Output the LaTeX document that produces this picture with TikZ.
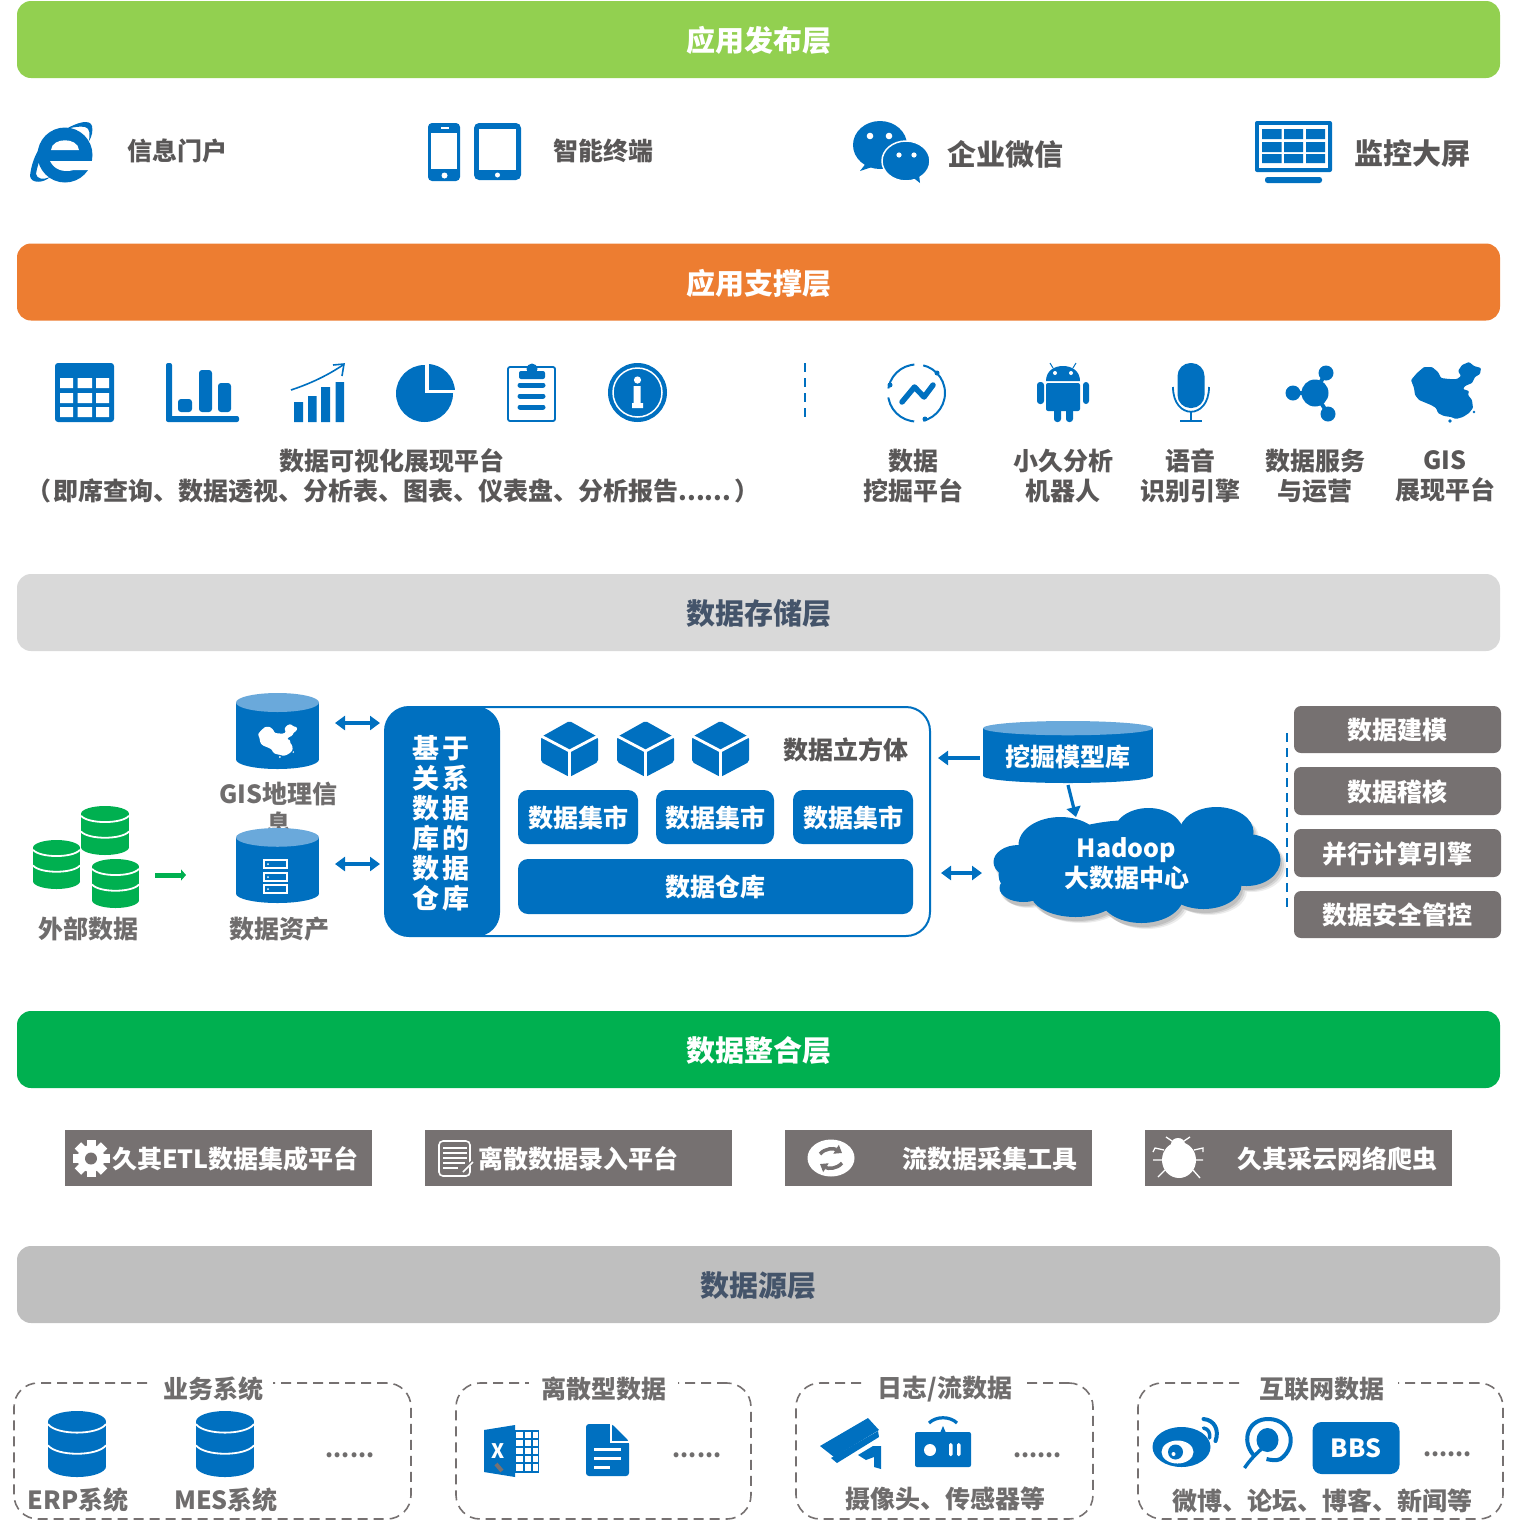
\documentclass[tikz,border=0pt]{standalone}
\usepackage{fontspec}
\setmainfont{Noto Sans CJK SC}
\usetikzlibrary{arrows.meta}
\definecolor{bluemain}{HTML}{0070C0}
\definecolor{bluelight}{HTML}{6AA9DB}
\definecolor{greenstack}{HTML}{00B050}
\definecolor{txtdark}{HTML}{595757}
\definecolor{txtgray}{HTML}{6F6D6D}
\definecolor{boxgray}{HTML}{767171}
\definecolor{headslate}{HTML}{44546A}
\tikzset{
  band/.style={rounded corners=14pt,minimum width=1483pt,minimum height=77pt,inner sep=0pt,
    text height=26pt,text depth=2pt,font=\fontsize{29}{34}\selectfont\bfseries,text=white},
  lbl/.style={inner sep=0pt,yshift=-1pt,align=center,font=\fontsize{25}{30}\selectfont\bfseries,text=txtdark},
  lblg/.style={lbl,text=txtgray},
  lblw/.style={lbl,text=white},
  dotrow/.style={inner sep=0pt,anchor=base,font=\fontsize{23}{28}\selectfont\bfseries,text=txtgray},
  bluebox/.style={fill=bluemain,rounded corners=10pt,inner sep=0pt,text=white,
    text height=22.5pt,text depth=2.5pt,font=\fontsize{25}{30}\selectfont\bfseries},
  graybox/.style={fill=boxgray,rounded corners=7pt,minimum width=207pt,inner sep=0pt,text=white,
    text height=22.5pt,text depth=2.5pt,font=\fontsize{25}{30}\selectfont\bfseries},
  etlbox/.style={fill=boxgray,minimum width=307pt,minimum height=56pt,inner sep=0pt},
  srcbox/.style={draw=boxgray,line width=1.6pt,dash pattern=on 10pt off 6pt,rounded corners=24pt,inner sep=0pt},
  linkd/.style={draw=bluemain,line width=3.2pt,{Triangle[length=10pt,width=14pt]}-{Triangle[length=10pt,width=14pt]}},
  links/.style={draw=bluemain,line width=3.2pt,-{Triangle[length=10pt,width=14pt]}},
  sepline/.style={draw=bluemain,line width=1.6pt,dash pattern=on 9pt off 6pt},
}
% database drum built from stacked discs, in a unit box
\newcommand{\discdb}[5]{% colour, x, y, w, h
  \begin{scope}[shift={(#2,#3)},xscale=#4,yscale=#5]
    \fill[#1] (0,.16) rectangle (1,.84);
    \fill[#1] (.5,.16) circle [x radius=.5,y radius=.16];
    \fill[#1] (.5,.84) circle [x radius=.5,y radius=.16];
    \draw[white,line width=1.8pt] (0,.2) .. controls (.15,.37) and (.85,.37) .. (1,.2);
    \draw[white,line width=1.8pt] (0,.52) .. controls (.15,.69) and (.85,.69) .. (1,.52);
  \end{scope}}
% cylinder with a lighter lid
\newcommand{\lidcyl}[5]{% x, y, w, h, lid ratio
  \begin{scope}[shift={(#1,#2)},xscale=#3,yscale=#4]
    \fill[bluemain] (0,#5) rectangle (1,1-#5);
    \fill[bluemain] (.5,1-#5) circle [x radius=.5,y radius=#5];
    \fill[bluelight] (.5,#5) circle [x radius=.5,y radius=#5];
  \end{scope}}
% isometric cube split in three faces
\newcommand{\isocube}[2]{%
  \begin{scope}[shift={(#1,#2)}]
    \fill[bluemain,rounded corners=2pt] (28.5,0)--(57,16)--(57,41)--(28.5,56)--(0,41)--(0,16)--cycle;
    \draw[white,line width=2.8pt] (0,15)--(28.5,30)--(57,15) (28.5,30)--(28.5,57);
  \end{scope}}
% outline of the country, 70 wide and 60 tall
\newcommand{\landmass}[4]{% colour, x, y, scale
  \begin{scope}[shift={(#2,#3)},scale=#4]
    \fill[#1,rounded corners=1pt] (0,18)--(6,11)--(13,5)--(21,5)--(27,10)--(30,16)--(38,17)--(46,17)--(50,14)--(47,9)--(51,3)--(58,0)--(63,4)--(70,6)--(69,12)--(64,15)--(61,21)--(54,24)--(52,27)--(58,29)--(57,33)--(61,38)--(62,46)--(58,51)--(52,55)--(45,57)--(40,55)--(33,54)--(27,51)--(25,46)--(20,43)--(8,38)--(4,33)--(3,26)--cycle;
    \fill[#1] (39,59) circle [radius=1.8];
    \fill[#1] (63,50) circle [radius=1.4];
  \end{scope}}
\newcommand{\cloudshape}{
  (1062,845) circle [x radius=42,y radius=28]
  (1150,833) circle [x radius=35,y radius=25]
  (1218,832) circle [x radius=37,y radius=25]
  (1248,860) circle [x radius=34,y radius=26]
  (1020,862) circle [x radius=25,y radius=17]
  (1025,888) circle [x radius=24,y radius=14]
  (1040,875) circle [x radius=40,y radius=25]
  (1077,893) circle [x radius=45,y radius=24]
  (1143,896) circle [x radius=42,y radius=27]
  (1205,885) circle [x radius=38,y radius=24]
  (1135,865) circle [x radius=100,y radius=45]
}
\begin{document}
\begin{tikzpicture}[x=1pt,y=-1pt]
\useasboundingbox (0,0) rectangle (1517,1524);

% ---------- layer bands ----------
\node[band,fill={rgb,255:red,146;green,208;blue,80}] (pub) at (758.5,39.5) {应用发布层};
\node[band,fill={rgb,255:red,237;green,125;blue,49}] (sup) at (758.5,282) {应用支撑层};
\node[band,fill={rgb,255:red,217;green,217;blue,217},text=headslate] (sto) at (758.5,612.5) {数据存储层};
\node[band,fill=greenstack] (int) at (758.5,1049.5) {数据整合层};
\node[band,fill={rgb,255:red,191;green,191;blue,191},text=headslate] (src) at (758.5,1284.5) {数据源层};

% ---------- publishing row ----------
% browser logo: letter with its orbit
\fill[bluemain] (65,155) circle [radius=27.5];
\fill[white] (51,150) .. controls (52,137) and (78,137) .. (79,150) -- cycle;
\fill[white] (50,161) -- (95,161) -- (95,170) -- (74,170) .. controls (62,173) and (54,169) .. (50,161) -- cycle;
\fill[white] (75,167) -- (95,167) -- (95,160) -- cycle;
\fill[bluemain] (30,176) .. controls (32,158) and (40,143) .. (56,130) .. controls (46,145) and (38,160) .. (36,174) .. controls (37,179) and (43,180) .. (50,177) .. controls (44,183) and (31,184) .. (30,176) -- cycle;
\fill[bluemain] (66,129) .. controls (78,122) and (90,119) .. (92,126) .. controls (93,131) and (92,136) .. (89,141) .. controls (90,134) and (90,128) .. (85,127) .. controls (80,126) and (74,127) .. (66,129) -- cycle;
\node[lbl] (tportal) at (177,150) {信息门户};
% handset and tablet
\fill[bluemain,rounded corners=4pt] (428,123) rectangle (460,181);
\fill[white] (431,133) rectangle (457,169);
\fill[white] (441,127) rectangle (449,129);
\fill[white] (444.5,175.5) circle [radius=3];
\fill[bluemain,rounded corners=5pt] (474,123) rectangle (521,180);
\fill[white] (479,129) rectangle (516,170);
\fill[white] (497.5,175) circle [radius=2.5];
\node[lbl] (tterm) at (603,150) {智能终端};
% chat bubbles
\begin{scope}[xshift=-1pt]
\fill[bluemain] (881,145) circle [x radius=27,y radius=24];
\fill[bluemain] (868,162)--(861,171)--(876,166)--cycle;
\fill[bluemain,draw=white,line width=1.5pt] (907,161) circle [x radius=24,y radius=20];
\fill[bluemain] (912,176)--(921,183)--(920,174)--cycle;
\fill[white] (871,136) circle [radius=3.3] (890,136) circle [radius=3.3] (900,155) circle [radius=2.6] (915,155) circle [radius=2.6];
\end{scope}
\node[lbl,font=\fontsize{29}{34}\selectfont\bfseries] (twx) at (1005,153) {企业微信};
% wall screen
\begin{scope}[xshift=-2pt]
\fill[bluemain,rounded corners=2pt] (1257,121) rectangle (1334,172);
\fill[white] (1261,125) rectangle (1330,168);
\fill[bluemain] (1264,129) rectangle (1283.5,139) (1286,129) rectangle (1305,139) (1308,129) rectangle (1327,139)
  (1264,142) rectangle (1283.5,152) (1286,142) rectangle (1305,152) (1308,142) rectangle (1327,152)
  (1264,154) rectangle (1283.5,163) (1286,154) rectangle (1305,163) (1308,154) rectangle (1327,163);
\fill[bluemain,rounded corners=2.5pt] (1267,177) rectangle (1324,183);
\end{scope}
\node[lbl,font=\fontsize{29}{34}\selectfont\bfseries] (tscr) at (1412,153) {监控大屏};

% ---------- support row, left group ----------
% grid
\fill[bluemain,rounded corners=3pt] (55,363) rectangle (114,422);
\fill[white] (60,378) rectangle (73,388) (77.5,378) rectangle (92,388) (96,378) rectangle (109,388)
  (60,393) rectangle (73,403) (77.5,393) rectangle (92,403) (96,393) rectangle (109,403)
  (60,407) rectangle (73,417) (77.5,407) rectangle (92,417) (96,407) rectangle (109,417);
% bars on axes
\fill[bluemain,rounded corners=2pt] (166,363) rectangle (172,422) (166,416) rectangle (239,422);
\fill[bluemain,rounded corners=3pt] (178,399) rectangle (192,412) (199,370) rectangle (212,412) (218,383) rectangle (231,412);
% rising bars
\fill[bluemain] (294,402) rectangle (303,422) (308,396) rectangle (316.5,422) (321,387) rectangle (330,422) (335.5,382) rectangle (344,422);
\draw[bluemain,line width=1.6pt] (291,390) .. controls (312,383) and (328,375) .. (343,365);
\draw[bluemain,line width=1.6pt] (333,365) -- (344,364) -- (342,376);
% pie
\fill[bluemain] (424.5,393.5) circle [radius=28.5];
\fill[white] (424.5,360) rectangle (460,392.5);
\begin{scope}
  \clip (429,360) rectangle (460,389);
  \fill[bluemain] (427,392) circle [radius=28];
\end{scope}
% clipboard
\draw[bluemain,line width=1.8pt,rounded corners=2pt] (508,367) rectangle (555,421);
\fill[bluemain,rounded corners=2pt] (519,371) rectangle (545,379);
\fill[bluemain] (532,369) circle [radius=5.5];
\draw[bluemain,line width=5pt,line cap=round] (520,385)--(543,385) (520,396)--(543,396) (520,407)--(543,407);
% information disc
\fill[bluemain] (637.5,392.5) circle [radius=29.5];
\draw[white,line width=1.5pt] (637.5,392.5) circle [radius=24.5];
\fill[white] (637.5,380) circle [radius=3.6];
\fill[white] (633.5,386) rectangle (640.5,403) (632,403) rectangle (643,408);
\node[lbl] (tvis) at (391.5,460) {数据可视化展现平台};
\node[lbl] (tvis2) at (393,490) {（\hspace{2pt}即席查询、数据透视、分析表、图表、仪表盘、分析报告......\hspace{3pt}）};

\coordinate (sa) at (805,363);
\coordinate (sb) at (805,421);
\draw[sepline] (sa) -- (sb);

% ---------- support row, right group ----------
% mining ring
\draw[bluemain,line width=2pt,dash pattern=on 38pt off 9pt] (916.5,393) circle [radius=28.5];
\draw[bluemain,line width=5.5pt,line cap=round,line join=round] (902,402)--(914.5,387)--(924,397)--(933,385);
\fill[bluemain] (890,385) circle [radius=2.5] (937,373) circle [radius=2.5] (925,419) circle [radius=2.5];
\node[lbl] (tmine) at (913,475) {数据\\挖掘平台};
% robot
\begin{scope}[xshift=-1pt]
\fill[bluemain] (1047,381) .. controls (1047,371) and (1055,366) .. (1064,366) .. controls (1073,366) and (1081,371) .. (1081,381) -- cycle;
\fill[bluemain,rounded corners=2pt] (1047,383) rectangle (1081,411);
\fill[bluemain,rounded corners=3pt] (1038,382) rectangle (1045,404) (1084,382) rectangle (1090,404) (1055,405) rectangle (1062,422) (1067,405) rectangle (1074,422);
\draw[bluemain,line width=1pt] (1054,368)--(1051,363) (1074,368)--(1077,363);
\fill[white] (1056,373) circle [radius=2] (1072,373) circle [radius=2];
\end{scope}
\node[lbl] (trobot) at (1063,475) {小久分析\\机器人};
% microphone
\begin{scope}[xshift=-2pt]
\fill[bluemain,rounded corners=13pt] (1179.5,363) rectangle (1206.5,408);
\draw[bluemain,line width=1.8pt] (1175,387) .. controls (1175,420) and (1211,420) .. (1211,387);
\draw[bluemain,line width=1.8pt] (1193,412) -- (1193,421) (1182,421) -- (1204,421);
\end{scope}
\node[lbl] (tvoice) at (1190,475) {语音\\识别引擎};
% hub
\begin{scope}[xshift=-2pt]
\draw[bluemain,line width=4pt] (1317,393)--(1328,372) (1317,393)--(1295,393) (1317,393)--(1330,414);
\fill[bluemain] (1317,393) circle [radius=13.5] (1328,373) circle [radius=7.5] (1295,393) circle [radius=7.5] (1330,414) circle [radius=7.5];
\end{scope}
\node[lbl] (tserv) at (1315,475) {数据服务\\与运营};
% map
\landmass{bluemain}{1411}{362}{1}
\node[lbl] (tgis) at (1445,475) {GIS\\展现平台};

% ---------- storage: feeding databases ----------
\discdb{greenstack}{33}{840}{47}{49}
\discdb{greenstack}{81}{806}{48}{49}
\discdb{greenstack}{92}{859}{47}{49}
\coordinate (ga) at (155,875);
\coordinate (gb) at (186,875);
\draw[greenstack,line width=5pt,-{Triangle[length=5pt,width=11pt]}] (ga) -- (gb);
\node[lblg] (text) at (88,928) {外部数据};

\node[lblg] (tgeo) at (278.5,808) {GIS地理信\\息};
\lidcyl{236}{693}{83}{76}{.125}
\landmass{white}{258}{724}{.56}
\lidcyl{236}{828}{83}{75}{.125}
\draw[white,line width=1.2pt] (264,860) rectangle (287,868) (264,873) rectangle (287,881) (264,885) rectangle (287,893);
\fill[white] (268,864) circle [radius=1] (268,877) circle [radius=1] (268,889) circle [radius=1];
\node[lblg] (tasset) at (279,928) {数据资产};

% ---------- storage: warehouse frame ----------
\node[draw=bluemain,fill=white,line width=2pt,rounded corners=24pt,minimum width=545pt,minimum height=229pt,inner sep=0pt] (frame) at (657.5,821.5) {};
\node[fill=bluemain,rounded corners=24pt,minimum width=115pt,minimum height=230pt,inner sep=0pt] (rel) at (442.5,821.5) {};
\node[inner sep=0pt,text=white,align=center,font=\fontsize{27}{30}\selectfont\bfseries] (trel) at (440.5,823.5)
  {基\hspace{3pt}于\\关\hspace{3pt}系\\数\hspace{3pt}据\\库\hspace{3pt}的\\数\hspace{3pt}据\\仓\hspace{3pt}库};
\isocube{541}{721}
\isocube{617}{721}
\isocube{692}{721}
\node[lbl] (tcube) at (845.5,749) {数据立方体};
\node[bluebox,minimum width=120pt,minimum height=54pt] (mart1) at (578,817) {数据集市};
\node[bluebox,minimum width=118pt,minimum height=54pt] (mart2) at (715,817) {数据集市};
\node[bluebox,minimum width=120pt,minimum height=54pt] (mart3) at (853,817) {数据集市};
\node[bluebox,minimum width=395pt,minimum height=55pt] (dw) at (715.5,886.5) {数据仓库};

\coordinate (a1l) at (335,723);
\coordinate (a1r) at (380,723);
\coordinate (a2l) at (335,864);
\coordinate (a2r) at (380,864);
\draw[linkd] (a1l) -- (a1r);
\draw[linkd] (a2l) -- (a2r);

% ---------- storage: mining models and cluster ----------
\lidcyl{983}{721}{170}{62}{.115}
\node[lblw] (tmodel) at (1068,756) {挖掘模型库};
\coordinate (ma) at (980,758);
\coordinate (mb) at (938,758);
\draw[links] (ma) -- (mb);
\coordinate (mc) at (1068,785);
\coordinate (md) at (1076,817);
\draw[links] (mc) -- (md);
\coordinate (ha) at (941,873);
\coordinate (hb) at (982,873);
\draw[linkd] (ha) -- (hb);

% soft cast shadow under the cluster
\begin{scope}[shift={(0,4)}] \fill[black,opacity=.10] \cloudshape; \end{scope}
\begin{scope}[shift={(2,5)}] \fill[black,opacity=.10] \cloudshape; \end{scope}
\begin{scope}[shift={(4,6)}] \fill[black,opacity=.07] \cloudshape; \end{scope}
\begin{scope}[xshift=-1.5pt]
\fill[bluemain] \cloudshape;
\end{scope}
\node[lblw] (thd) at (1126.5,863) {Hadoop\\大数据中心};

\coordinate (da) at (1287,733);
\coordinate (db) at (1287,908);
\draw[sepline] (da) -- (db);
\node[graybox,minimum height=47pt] (g1) at (1397.5,729.5) {数据建模};
\node[graybox,minimum height=48pt] (g2) at (1397.5,791) {数据稽核};
\node[graybox,minimum height=48pt] (g3) at (1397.5,853) {并行计算引擎};
\node[graybox,minimum height=47pt] (g4) at (1397.5,914.5) {数据安全管控};

% ---------- integration row ----------
\node[etlbox] (e1) at (218.5,1158) {};
\node[etlbox] (e2) at (578.5,1158) {};
\node[etlbox] (e3) at (938.5,1158) {};
\node[etlbox] (e4) at (1298.5,1158) {};
% gear
\foreach \a in {0,45,90,135}
  \fill[white,rotate around={\a:(91,1158.5)}] (86.5,1140) rectangle (95.5,1177);
\fill[white] (91,1158.5) circle [radius=13.5];
\fill[boxgray] (91,1158.5) circle [radius=6];
\node[lblw,anchor=west] (te1) at (112,1158) {久其ETL数据集成平台};
% ledger sheet
\draw[white,line width=1.6pt,rounded corners=4pt] (439,1141) rectangle (470,1176);
\draw[white,line width=1.8pt] (443,1148)--(467,1148) (443,1153)--(467,1153) (443,1158)--(467,1158) (443,1163)--(465,1163) (443,1168)--(458,1168);
\draw[boxgray,line width=3pt] (462,1172)--(474,1160);
\draw[white,line width=1.6pt] (463,1172)--(473,1162);
\node[lblw,anchor=west] (te2) at (478,1158) {离散数据录入平台};
% exchange disc
\fill[white] (831,1158) circle [x radius=23.5,y radius=18.5];
\draw[boxgray,line width=3.5pt,-{Triangle[length=7pt,width=10pt]}] (820,1154) .. controls (825,1148) and (834,1148) .. (842,1153);
\draw[boxgray,line width=3.5pt,-{Triangle[length=7pt,width=10pt]}] (842,1163) .. controls (837,1169) and (828,1169) .. (820,1164);
\node[lblw,anchor=west] (te3) at (902,1158) {流数据采集工具};
% insect
\fill[white] (1179,1160) circle [x radius=17,y radius=18];
\fill[white] (1178,1144) circle [x radius=7,y radius=6];
\draw[white,line width=1.3pt] (1172,1141)--(1166,1137) (1184,1141)--(1190,1137)
  (1164,1150)--(1155,1148)--(1153,1152) (1194,1150)--(1203,1148)--(1203,1152)
  (1162,1160)--(1153,1160) (1196,1160)--(1203,1160)
  (1165,1170)--(1158,1177) (1193,1170)--(1200,1178);
\node[lblw,anchor=west] (te4) at (1237,1158) {久其采云网络爬虫};

% ---------- source groups ----------
\node[srcbox,minimum width=397pt,minimum height=136pt] (b1) at (212.5,1451) {};
\node[srcbox,minimum width=295pt,minimum height=136pt] (b2) at (603.5,1451) {};
\node[srcbox,minimum width=297pt,minimum height=136pt] (b3) at (944.5,1451) {};
\node[srcbox,minimum width=365pt,minimum height=136pt] (b4) at (1320.5,1451) {};
\node[lblg,fill=white,inner xsep=10pt,inner ysep=2pt] (tb1) at (213,1388) {业务系统};
\node[lblg,fill=white,inner xsep=12pt,inner ysep=2pt] (tb2) at (603.5,1388) {离散型数据};
\node[lblg,fill=white,inner xsep=14pt,inner ysep=2pt] (tb3) at (945,1388) {日志/流数据};
\node[lblg,fill=white,inner xsep=14pt,inner ysep=2pt] (tb4) at (1321.5,1388) {互联网数据};

\discdb{bluemain}{48}{1411}{58}{66}
\discdb{bluemain}{196}{1411}{58}{66}
\node[lblg] (terp) at (78,1499) {ERP系统};
\node[lblg] (tmes) at (226,1499) {MES系统};
\node[dotrow] (d1) at (350,1457) {......};

% spreadsheet file
\fill[bluemain] (484,1430)--(515,1425)--(515,1477)--(484,1472)--cycle;
\draw[bluemain,line width=1.4pt] (515,1431) rectangle (538.5,1472);
\draw[bluemain,line width=1.2pt] (515,1439)--(538,1439) (515,1447)--(538,1447) (515,1455)--(538,1455) (515,1463)--(538,1463) (524,1431)--(524,1472) (532,1431)--(532,1472);
\node[inner sep=0pt,text=white,font=\fontsize{20}{24}\selectfont\bfseries] (xl) at (498.5,1451) {X};
\draw[boxgray,line width=4pt] (496,1464)--(502,1471);
% text file
\fill[bluemain,rounded corners=3pt] (586,1424)--(612,1424)--(629,1441)--(629,1476)--(586,1476)--cycle;
\draw[white,line width=1.8pt] (611,1423)--(611,1442)--(630,1442);
\draw[white,line width=3pt] (594,1449)--(621,1449) (594,1458.5)--(621,1458.5) (594,1467)--(610,1467);
\node[dotrow] (d2) at (697,1457) {......};

% surveillance camera
\begin{scope}[xshift=-1pt]
\fill[bluemain] (821,1446)--(869,1418)--(880,1430)--(835,1457)--cycle;
\fill[bluemain] (832,1458)--(879,1431)--(880,1437)--(838,1463)--cycle;
\fill[bluemain] (859,1455)--(874,1446)--(882,1446)--(882,1469)--(875,1467)--(875,1457)--(867,1460)--cycle;
% radio sensor
\fill[bluemain,rounded corners=2pt] (916,1432) rectangle (972,1467);
\fill[white] (931,1450) circle [radius=6];
\fill[white,rounded corners=1.5pt] (950,1443) rectangle (953.5,1456) (958,1443) rectangle (961.5,1456);
\draw[bluemain,line width=3.2pt] (930,1423) .. controls (937,1416) and (951,1416) .. (958,1423);
\fill[bluemain] (941,1433)--(944,1426)--(947,1433)--cycle;
\end{scope}
\node[dotrow] (d3) at (1037.5,1457) {......};
\node[lblg] (tcam) at (945.5,1498) {摄像头、传感器等};

\begin{scope}[xshift=-1.5pt]
% microblog mark
\fill[bluemain] (1183,1447) circle [x radius=29,y radius=20];
\fill[white] (1179,1452) circle [x radius=16,y radius=11.5];
\fill[bluemain] (1177,1452) circle [radius=7.5];
\fill[white] (1175,1454) circle [radius=2];
\draw[bluemain,line width=4pt,line cap=round] (1205,1419) .. controls (1216,1420) and (1221,1430) .. (1217,1441);
\draw[bluemain,line width=3.5pt,line cap=round] (1205,1428) .. controls (1210,1429) and (1212,1433) .. (1211,1438);
% forum mark
\draw[bluemain,line width=4pt] (1255,1455) .. controls (1242,1440) and (1250,1418) .. (1271,1419) .. controls (1293,1420) and (1300,1446) .. (1282,1459) .. controls (1278,1461) and (1272,1460) .. (1268,1459);
\fill[bluemain] (1269,1440) circle [x radius=11,y radius=12];
\draw[bluemain,line width=3.4pt] (1263,1449) .. controls (1256,1455) and (1250,1462) .. (1246,1468);
\end{scope}
\node[fill=bluemain,rounded corners=9pt,minimum width=87pt,minimum height=52pt,inner sep=0pt,text=white,font=\fontsize{25}{30}\selectfont\bfseries] (bbs) at (1356,1448) {BBS};
\node[dotrow] (d4) at (1447.5,1456) {......};
\node[lblg] (tweb) at (1322,1500) {微博、论坛、博客、新闻等};
\end{tikzpicture}
\end{document}
